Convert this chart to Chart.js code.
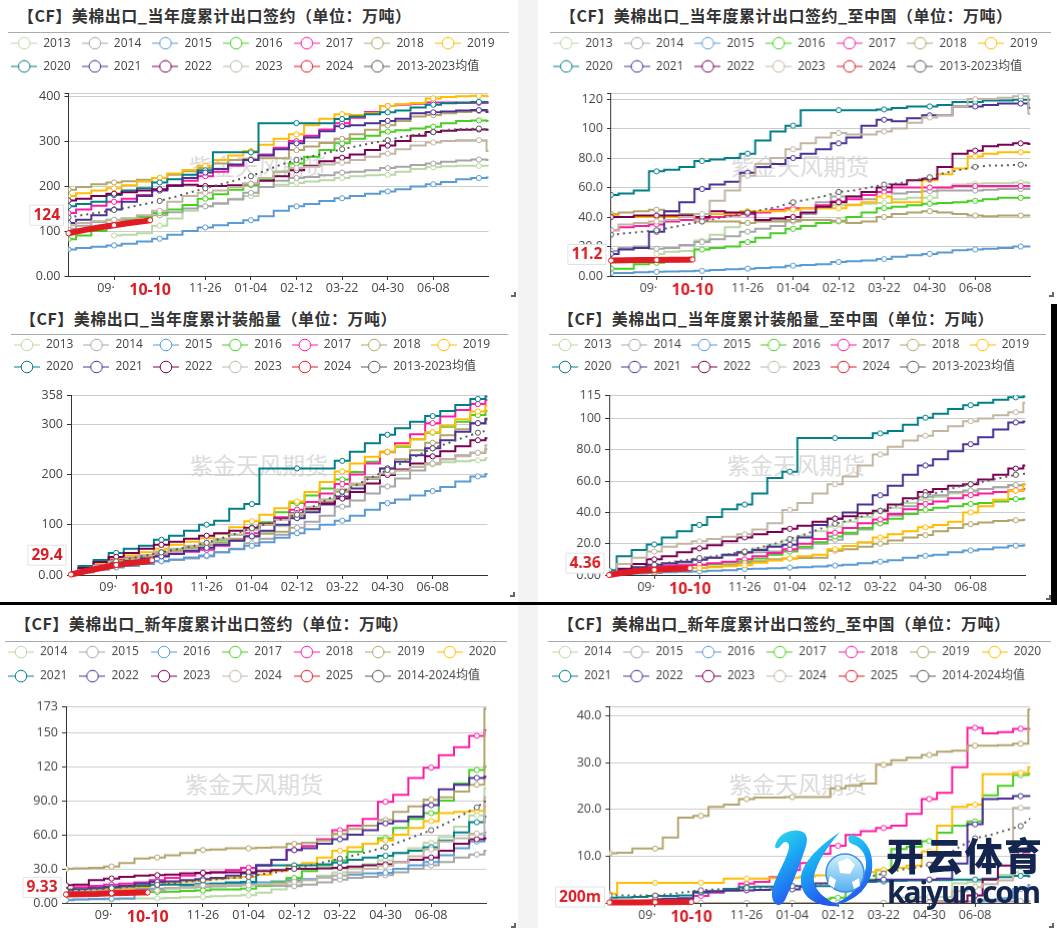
<!DOCTYPE html>
<html><head><meta charset="utf-8">
<script src="https://cdn.jsdelivr.net/npm/chart.js@4/dist/chart.umd.min.js"></script>
<style>
html,body{margin:0;padding:0;background:#fff;width:1057px;height:928px;overflow:hidden}
.abs{position:absolute}
.title{font:700 16px "Noto Sans CJK SC";color:#333;white-space:nowrap;line-height:22px;letter-spacing:0.5px}
.wm{font:400 23px "Noto Sans CJK SC";color:#dcdcdc;white-space:nowrap;line-height:28px}
</style></head><body>
<div id="root"></div>
<script>
const weeks=[0,1,2,3,4,5,6,7,8,9,10,11,12,13,14,15,16,17,18,19,20,21,22,23,24,25,26,27,28];
const latestWeek=5.37;
const xTickWeeks=[3,5.37,6,9,12,15,18,21,24];
const xTickLabels=['09·\u00a0\u00a0\u00a0\u00a0\u00a0','10-10','','11-26','01-04','02-12','03-22','04-30','06-08'];
const colors=['#b9d9a6','#a6a6a6','#5b9bd5','#47d022','#ff1aa3','#b3a46c','#ffbc00','#007f88','#4b3096','#7a0052','#c2b5a2','#e01b24','#595959'];
const legendA=['2013','2014','2015','2016','2017','2018','2019','2020','2021','2022','2023','2024','2013-2023均值'];
const legendB=['2014','2015','2016','2017','2018','2019','2020','2021','2022','2023','2024','2025','2014-2024均值'];

// Panel 1: current-year cumulative export sales
const p1_2013=[null,null,null,90,92,95,112,128,145,155,160,172,178,198,203,207,210,213,218,222,224,225,232,238,242,244,245,245,245];
const p1_2014=[105,112,120,125,128,130,135,142,150,155,162,170,185,198,212,218,220,224,230,232,235,240,243,247,250,254,257,259,258];
const p1_2015=[59,62,65,68,72,77,83,92,100,108,113,118,124,133,145,155,160,167,173,178,183,188,193,199,204,209,215,218,219];
const p1_2016=[82,90,100,115,125,132,140,148,158,172,182,192,202,215,232,250,265,280,295,305,312,321,324,328,332,340,345,346,345];
const p1_2017=[140,148,156,165,172,180,192,200,212,222,232,245,258,270,285,300,312,326,340,352,365,378,381,383,386,386,385,385,385];
const p1_2018=[192,198,204,208,211,214,218,225,233,240,250,258,260,262,262,280,288,296,305,315,325,335,345,355,358,362,365,367,368];
const p1_2019=[178,184,190,195,202,210,218,228,236,245,258,268,278,292,305,315,335,350,360,358,362,378,382,385,395,398,400,401,400];
const p1_2020=[155,160,165,180,190,195,208,215,225,235,275,275,275,340,340,340,340,340,349,355,360,364,368,375,381,384,386,387,387];
const p1_2021=[118,125,135,148,165,178,190,200,218,230,238,248,258,268,282,295,308,322,333,335,340,345,350,362,364,366,368,369,365];
const p1_2022=[168,172,178,183,186,190,193,202,203,200,200,202,205,212,222,235,245,255,263,270,280,290,300,312,320,323,325,326,325];
const p1_2023=[113,118,122,125,128,135,145,165,178,185,190,198,205,218,232,240,243,248,252,258,265,272,282,290,297,300,302,302,278];
const p1_now=[95,102,108,113,118,122,124];
const p1_mean=[130,136,141,147,153,160,167,176,186,195,204,213,222,235,248,258,266,274,282,289,296,302,310,315,320,325,327,328,325];

// Panel 2: current-year cumulative export sales to China
const p2_2013=[null,null,null,15,16.5,17,24,28,33,36,37,38,40,42,46,48,48.5,49,49.5,52,53,53,60,62,62.5,63,63,63.5,63];
const p2_2014=[17,19,20,18.5,19,21,23,25,27,30,32,34,37,42,50,54,54,52,57,56,57,57.5,58,58,58,58.5,59,59,59];
const p2_2015=[2,2,2.5,2.8,3,3.2,3.5,4,4.5,5,5.5,6,7,7.5,8,9.5,10,10.5,11.5,13,14,15,16,17.5,18,18.5,19,20,20];
const p2_2016=[5,5,8,9,10,11,18,19,20,23,26,29,32,34,36,37,40,43,46,47,48,49,49.5,50,51,52,53,53,53];
const p2_2017=[31,33,34,35,37,38,39,40,41,42,43,45,46,46,48,50.5,52,55,57,60,60,60,60,61,61,61,61,61,61];
const p2_2018=[42,43,44,45,44,42,37,37,37,36,37,37,38,38,38,37.5,36,37,40,42,43,44,43,42,41,40.5,41,41,41];
const p2_2019=[41,40,40,40,40,40,40,42,42,44,44,44,45,46,46,46,48,50,54,50,50,65,69,73,81,83,84,84,84];
const p2_2020=[55,56,58,71,72,74,78,79,80,83,92,98,102,112.5,112.5,112.5,112.5,112.5,113,114,115,115,116,118,118,119,119,119.5,119.5];
const p2_2021=[15,18,19,30,44,50,59,62,64,70,74,76,80,83,86,90,94,102,106,105,107,109,109,115,115,116,117,117,114];
const p2_2022=[40,40,41,41,41,41,40,44,43,43,38,39,40,43,47,50,54,57,60,62,65,66,74,83,85,88,89,90,89.5];
const p2_2023=[31,35,36,37,38,40,42,51,58,68,76,80,86,90,94,97,96,96,98,100,104,107.5,109,115,120,120,121,122,110];
const p2_now=[10.5,10.7,10.8,10.9,11,11.1,11.2];
const p2_mean=[28,29,30,31,33,35,37,39,41,43,45,47,50,52,54,57,58,60,62,63,65,67,70,72,74,75,75,75.5,74];

// Panel 3: current-year cumulative shipments
const p3_2013=[0,8,16,22,28,35,42,47,52,55,62,68,75,85,97,115,130,150,165,178,192,200,208,216,220,224,226,228,232];
const p3_2014=[0,5,11,17,20,23,27,30,33,37,45,52,63,72,80,94,106,118,136,148,162,176,192,208,222,230,238,243,250];
const p3_2015=[0,6,11,15,18,22,28,31,35,39,45,51,58,65,74,83,91,100,108,118,130,143,150,158,167,175,186,196,201];
const p3_2016=[0,14,22,30,35,40,46,51,55,60,70,80,93,105,125,143,158,172,190,205,225,244,255,270,283,295,305,318,326];
const p3_2017=[0,12,22,32,34,37,40,43,46,50,58,70,83,100,115,130,145,162,181,200,222,245,262,280,302,315,328,340,348];
const p3_2018=[0,8,16,24,30,36,42,48,54,60,65,72,77,82,86,118,130,145,166,180,195,212,230,248,263,278,290,302,312];
const p3_2019=[0,15,24,34,39,45,52,60,66,73,82,95,107,120,133,146,165,185,206,222,235,245,257,270,284,297,310,325,337];
const p3_2020=[3,18,30,44,52,58,70,78,88,100,108,132,141,212,212,212,212,212,227,245,262,279,292,305,316,326,338,350,355];
const p3_2021=[0,10,17,24,28,33,37,42,48,54,60,68,77,88,100,113,125,140,156,172,192,212,225,238,252,268,285,302,310];
const p3_2022=[0,14,26,36,44,52,60,66,72,78,83,88,94,102,112,123,132,142,152,165,182,199,210,222,236,246,256,268,272];
const p3_2023=[0,10,19,27,33,40,46,52,58,64,72,80,90,100,110,122,135,150,170,182,192,202,208,215,222,230,236,243,258];
const p3_now=[1,8,14,20,24,27,29.4];
const p3_mean=[0,9,18,27,33,39,45,51,57,64,73,83,93,102,111,120,135,150,166,180,195,209,223,238,252,262,273,283,290];

// Panel 4: current-year cumulative shipments to China
const p4_2013=[0,1,2,3,5,7,10,11,13,15,17,19,22,25,28,31,34,37,40.5,43,46,48,50,52,53,55,56,57,58];
const p4_2014=[1,2,3,4.5,6,8,10,11,12.5,14,14.5,15,15.5,17,20,22.5,26,29,33,38,44,50,51,53,54,55,56,57.5,58];
const p4_2015=[0,0.5,1,1.3,1.7,2,2.3,2.7,3,3.8,4,4.3,4.7,5,5.5,6,6.5,7.5,8.5,9.5,11,12.3,13,14.5,15.7,16.5,17.5,18.7,19];
const p4_2016=[0,1,2,3.5,4.5,5.5,6.5,7,8,8.7,10.5,13,15,18,21,24.6,27,30,33,36,39,41.6,43,44,45.4,46,47,48.5,49];
const p4_2017=[0,2,4,5.5,6,6.2,6.5,7.5,8.5,10,12,14,16.5,20,23,27,30,33,35.5,39,42,45.4,47,49,51,52,53,54,55];
const p4_2018=[0,1,2,2.3,3,3.7,4.5,5.5,6.5,7.6,8.8,10,10.6,10.8,11,15.5,16.5,18,20,22,24,25.5,28,30,32.5,33.5,34.5,35,35.3];
const p4_2019=[0,1,1.8,2.3,3,3.8,4.5,5,5.6,6.2,7.8,9.3,10.6,12,13,16.5,18.5,21,24,26,28,30.5,32,34,40,44,48,54,58];
const p4_2020=[3,12,16,19.5,24,28,32,37,42,45,52,62,66,87.5,87.5,87.5,87.5,87.5,90.5,92,96,100.5,103,106,108.5,110,112,113.5,114];
const p4_2021=[0,3,5,6.5,7.5,8.5,9.8,11,13,14.6,16,18,19.3,24,32,36,40,45,51,57,64,70,74,79,83.6,88,93,97.5,98];
const p4_2022=[0,4,7,10,12,14.5,17,19,21.5,24,26,27.5,29.5,31.5,34,36,37.5,39.5,41,45,49,53,55,57,58,61,64,68,70];
const p4_2023=[0,7,11,15,18,20,21.5,23,24.5,26,29,33,41.6,46,52,58,63,70,77,82,86,89,92,95,98.3,100,102,104,110];
const p4_now=[0,1.5,2.7,3.3,3.8,4.1,4.36];
const p4_mean=[1,3,5,6.5,8,9.5,10.8,12,13.5,15,17.5,20,23,26,29.5,32.7,35,38,41,44,48,51,53,56,58,60,62,64,65];

// Panel 5: new-crop cumulative export sales
const p5_2014=[3,3,3,3,3.5,4,4,4.5,5,5.3,6,6.5,6.8,9,12,16,20,24,27,31,34,37.6,44,48,53,58,67,77,101];
const p5_2015=[10,11,12,12.6,12.6,12.6,12.6,13,13.5,14,14.5,15,15.6,15,15,14.7,16,18,20.6,22,23,24.4,27,30,33,36,40,42.6,46];
const p5_2016=[2.4,3,3.5,3.8,4,12,12,13,15,17,17,17,17,18,19,20,21,22.5,24,25,26,26.5,30,33,36,42,48,54,62];
const p5_2017=[12,12,11,11,10,10,9.7,10,10.5,11,12,12,12.6,15,18,22,28,33,37.6,45,52,57,66,74,79,90,105,117,120];
const p5_2018=[11,14,15,16,17,18,20,22,24,26,27,29,31,33,38,46.5,50,56,64,68,74,89,95,110,119,130,137,147,152];
const p5_2019=[30,30.5,31,32,35,39,40,42,44,46.5,47,48,48,48.5,49,52,53,55,61,65,68,73,80,85,91,93,98,104,171];
const p5_2020=[10,10,10,12.6,13,14,16,18,19,20,21,22,23,25,28,33,35,40,46,49,52,55,60,66,72,79,80,81,85];
const p5_2021=[11,12,13,14,14.5,15,16,16,16,16,17,18,18.5,33,33,33,33,34,35.6,38,40,41.5,44,46,49,55,62,71,76];
const p5_2022=[11,12,13,14,15,17,18.5,19,20,21,22,24,26,33,38,46.5,48,52,56,60,64,70,72,76,86,100,104,110,111];
const p5_2023=[15.6,16,20,21.5,23,24,24.4,25,26,26.5,27,27,27,28,29,30,30,30.5,31,32,33,34,36,38,40,46,52,56,57];
const p5_2024=[10,10.5,11,11,11,11,11,13,14,15.6,15.6,15.6,15.6,16,17,18.5,20,22,24,27,30,32.6,36,41,47,54,57,61,93];
const p5_now=[7.5,7.8,8,8.5,8.9,9.2,9.33];
const p5_mean=[10.6,11.4,12.2,13,14,15,16,17.4,18.7,20,21,22,23,25.5,27.5,30,33,36,39,42,45.5,49,54,59,64,70,77,84,94];

// Panel 6: new-crop cumulative export sales to China
const p6_2014=[null,null,null,null,null,null,null,null,null,null,null,null,null,null,null,null,null,null,null,1.2,1.2,1.3,1.3,4.2,4.5,5,6,6.6,7];
const p6_2015=[0,0,0,0,0,0,0,0,0,0,0,0,0,0,0,0,0,0,0,0,0,0,0,0,0.3,0.3,0.3,0.4,0.4];
const p6_2016=[null,null,null,null,null,null,null,null,null,null,null,null,null,null,null,null,null,null,null,null,null,null,null,null,0.4,0.7,1,3,3.8];
const p6_2017=[null,null,null,null,null,null,null,null,null,null,null,null,null,null,0.8,1.1,2.5,5,7,11.5,12,13.2,15,16.5,17.4,23,25,27.3,27.6];
const p6_2018=[0,0,0,0,0.3,0.8,1.5,2.2,3,4.1,4.5,5.5,7,8.5,10.5,12.2,14.5,15.3,16,16.5,19,22.2,23.5,29,37.4,36.2,36.5,37.2,37.2];
const p6_2019=[10.6,10.7,11.6,11.6,14,18.2,18.6,20.5,21,22.2,22.5,22.5,22.6,22.6,22.6,24.5,25,25.5,29.5,30.5,31,31.6,32.3,32.5,33.6,33.6,33.7,34,41.3];
const p6_2020=[2,4.3,4.3,4.3,4.3,4.3,4.3,4.3,5.2,5.2,5.2,5.3,5.4,5.6,5.9,6,6.3,6.6,7,7.5,8,11,16.5,20.5,21,27.5,27.5,27.8,29];
const p6_2021=[1.1,1.2,1.3,1.5,1.5,1.6,2.2,2.4,3,3.4,3.5,3.5,3.6,3.6,3.6,3.6,3.7,4.5,4.6,4.7,4.8,4.9,4.9,5,5,5.2,5.5,5.8,5.7];
const p6_2022=[null,null,null,0.8,0.9,1,2.4,2.5,2.6,2.7,2.8,2.9,2.9,3.5,4.2,4.3,4.4,4.8,5,5,5,5,5.2,8.4,16.8,22.2,22.3,22.8,22.8];
const p6_2023=[null,null,null,null,null,null,null,null,null,null,null,null,null,null,null,null,null,null,null,0.2,0.2,0.2,0.3,0.3,1.6,5,8,10.8,10.8];
const p6_2024=[0,0,0,0,0,0,0,0,0,0,0,0,0,0,0,0,0,0,0,0,0,0.1,0.3,2.5,3.4,4,4.8,20.3,20.3];
const p6_now=[0.1,0.1,0.1,0.15,0.15,0.2,0.2];
const p6_mean=[1.6,1.6,1.6,1.6,1.9,2.3,2.7,2.9,3,3.2,3.3,3.5,3.6,3.9,4.1,4.4,5,5.6,6.3,7,7.5,8.2,10,12,13.8,14.5,15.5,16.4,19];

const yTicks1=[0,100,200,300,400,405], yLabels1=['0.00','100','200','300','400',''];
const yTicks2=[0,20,40,60,80,100,120,123.8], yLabels2=['0.00','20.0','40.0','60.0','80.0','100','120',''];
const yTicks3=[0,100,200,300,358], yLabels3=['0.00','100','200','300','358'];
const yTicks4=[0,20,40,60,80,100,115], yLabels4=['0.00','20.0','40.0','60.0','80.0','100','115'];
const yTicks5=[0,30,60,90,120,150,173], yLabels5=['0.00','30.0','60.0','90.0','120','150','173'];
const yTicks6=[0,10,20,30,40,42], yLabels6=['0.00','10.0','20.0','30.0','40.0',''];

const FONT='"Open Sans","Noto Sans CJK SC",sans-serif';
const panels=[
 {title:'【CF】美棉出口_当年度累计出口签约（单位：万吨）',tx:18,ty:4,rule:[8,509,32],icon:11,row:43,pad:11.2,
  pl:68.3,pr:488.3,pt:93.7,pb:276,yT:yTicks1,yL:yLabels1,tag:'124',wm:[189,151],corner:[511,292],legend:legendA,
  data:[p1_2013,p1_2014,p1_2015,p1_2016,p1_2017,p1_2018,p1_2019,p1_2020,p1_2021,p1_2022,p1_2023,p1_now,p1_mean]},
 {title:'【CF】美棉出口_当年度累计出口签约_至中国（单位：万吨）',tx:560,ty:4,rule:[550,1051,32],icon:553.3,row:43,pad:11.2,
  pl:611,pr:1030.3,pt:93.3,pb:276,yT:yTicks2,yL:yLabels2,tag:'11.2',wm:[731,151],corner:[1049,292],legend:legendA,
  data:[p2_2013,p2_2014,p2_2015,p2_2016,p2_2017,p2_2018,p2_2019,p2_2020,p2_2021,p2_2022,p2_2023,p2_now,p2_mean]},
 {title:'【CF】美棉出口_当年度累计装船量（单位：万吨）',tx:20,ty:307,rule:[11,508,334],icon:14.3,row:344.7,pad:10,
  pl:71.3,pr:487.7,pt:394.7,pb:575.3,yT:yTicks3,yL:yLabels3,tag:'29.4',wm:[190,450],corner:[510,592],legend:legendA,
  data:[p3_2013,p3_2014,p3_2015,p3_2016,p3_2017,p3_2018,p3_2019,p3_2020,p3_2021,p3_2022,p3_2023,p3_now,p3_mean]},
 {title:'【CF】美棉出口_当年度累计装船量_至中国（单位：万吨）',tx:558,ty:307,rule:[549,1046,334],icon:552.3,row:344.7,pad:10,
  pl:609.3,pr:1025.3,pt:394.7,pb:575.3,yT:yTicks4,yL:yLabels4,tag:'4.36',wm:[727,450],corner:[1046,595],legend:legendA,
  data:[p4_2013,p4_2014,p4_2015,p4_2016,p4_2017,p4_2018,p4_2019,p4_2020,p4_2021,p4_2022,p4_2023,p4_now,p4_mean]},
 {title:'【CF】美棉出口_新年度累计出口签约（单位：万吨）',tx:15,ty:612,rule:[5,507,641],icon:8.3,row:652.3,pad:12,
  pl:66.3,pr:486.7,pt:706.3,pb:902.7,yT:yTicks5,yL:yLabels5,tag:'9.33',wm:[185,769],corner:[511,923],legend:legendB,
  data:[p5_2014,p5_2015,p5_2016,p5_2017,p5_2018,p5_2019,p5_2020,p5_2021,p5_2022,p5_2023,p5_2024,p5_now,p5_mean]},
 {title:'【CF】美棉出口_新年度累计出口签约_至中国（单位：万吨）',tx:558,ty:612,rule:[548,1051,641],icon:552.3,row:652.3,pad:12,
  pl:609.7,pr:1030.3,pt:706.3,pb:902.7,yT:yTicks6,yL:yLabels6,tag:'200m',wm:[729,769],corner:[1049,923],legend:legendB,
  data:[p6_2014,p6_2015,p6_2016,p6_2017,p6_2018,p6_2019,p6_2020,p6_2021,p6_2022,p6_2023,p6_2024,p6_now,p6_mean]}
];

const root=document.getElementById('root');
function box(css,cls,txt){const d=document.createElement('div');d.className='abs '+(cls||'');d.style.cssText+=css;if(txt)d.textContent=txt;root.appendChild(d);return d;}
box('left:518px;top:0;width:20px;height:928px;background:#f3f3f3;');
box('left:1051px;top:304px;width:6px;height:301px;background:#000;z-index:9;');
box('left:0;top:602px;width:1057px;height:3px;background:#000;z-index:9;');

function icon(color){
  const c=document.createElement('canvas');c.width=26;c.height=14;
  const g=c.getContext('2d');g.strokeStyle=color;g.lineWidth=1;
  g.beginPath();g.moveTo(0,7);g.lineTo(26,7);g.stroke();
  g.fillStyle='#fff';g.beginPath();g.arc(13,7,5.8,0,Math.PI*2);g.fill();g.stroke();
  return c;
}

panels.forEach(p=>{
  box(`left:${p.tx}px;top:${p.ty}px;`,'title',p.title);
  box(`left:${p.rule[0]}px;top:${p.rule[2]}px;width:${p.rule[1]-p.rule[0]}px;height:1px;background:#aaa;`);
  box(`left:${p.wm[0]}px;top:${p.wm[1]}px;`,'wm','紫金天风期货');
  box(`left:${p.corner[0]}px;top:${p.corner[1]}px;width:3px;height:3px;border-right:2px solid #666;border-bottom:2px solid #666;z-index:8;`);
  const L=p.icon-p.pad, T=p.row-p.pad-6;
  const W=Math.min(1057-L,518);
  const H=p.pb+24-T;
  const cv=document.createElement('canvas');cv.width=W;cv.height=H;
  cv.className='abs';cv.style.cssText=`left:${L}px;top:${T}px;width:${W}px;height:${H}px;z-index:2;`;
  root.appendChild(cv);
  const datasets=p.data.map((arr,i)=>{
    const isNow=i===11,isMean=i===12;
    const pts=arr.map((v,k)=>({x:isNow&&k===6?latestWeek:weeks[k],y:v}));
    return {label:p.legend[i],data:pts,borderColor:colors[i],backgroundColor:'#fff',
      borderWidth:isNow?6:2,stepped:(isNow||isMean)?false:'middle',borderDash:isMean?[2,4]:[],
      order:isNow?-100:-i,clip:isNow?false:undefined,
      pointBackgroundColor:'#fff',pointBorderColor:colors[i],pointBorderWidth:1,
      pointRadius:c=>(c.dataIndex%3===0&&c.dataIndex<=27)?2.6:0,pointHoverRadius:0};
  });
  const fixLegend={id:'fixLegend',beforeLayout(chart){
    const lg=chart.legend; if(lg._wrapped) return; lg._wrapped=true; const f=lg.fit;
    lg.fit=function(){this.maxWidth=W;f.call(this);this.height=p.pt-T;};
  },afterLayout(chart){chart.legend.right=W;},afterDraw(chart){
    const y=chart.scales.y,ctx=chart.ctx;
    const cy=y.getPixelForValue(p.data[11][6])-5;
    ctx.save();ctx.font='700 15.5px '+FONT;
    const tw=ctx.measureText(p.tag).width,bw=tw+7,bh=20,bx=p.pl-L-5-bw;
    ctx.fillStyle='#fff';ctx.strokeStyle='#e2e2e2';ctx.lineWidth=1;
    ctx.beginPath();ctx.rect(bx,cy-bh/2,bw,bh);ctx.fill();ctx.stroke();
    ctx.fillStyle='#d91f26';ctx.textAlign='center';ctx.textBaseline='middle';
    ctx.fillText(p.tag,bx+bw/2,cy+0.5);ctx.restore();
  }};
  new Chart(cv.getContext('2d'),{type:'line',data:{datasets},plugins:[fixLegend],options:{
    responsive:false,animation:false,devicePixelRatio:1,
    layout:{padding:{left:0,top:0,bottom:0,right:W-(p.pr-L)}},
    plugins:{title:{display:false},tooltip:{enabled:false},
      legend:{display:true,position:'top',align:'start',labels:{
        usePointStyle:true,pointStyleWidth:26,boxHeight:12,padding:p.pad,color:'#444',
        font:{family:FONT,size:12,lineHeight:1},
        generateLabels:c=>c.data.datasets.map((d,i)=>({text:d.label,pointStyle:icon(d.borderColor),datasetIndex:i,fontColor:'#444',hidden:false,lineWidth:0,strokeStyle:'transparent',fillStyle:'transparent'}))
      }}},
    scales:{
      x:{type:'linear',min:0,max:27.63,
        afterBuildTicks:a=>{a.ticks=xTickWeeks.map(v=>({value:v}));},
        afterFit:s=>{s.height=24;},
        border:{color:'#333'},
        grid:{drawOnChartArea:false,tickLength:4,tickColor:c=>(c.tick&&c.tick.value===latestWeek)?'transparent':'#333'},
        ticks:{autoSkip:false,maxRotation:0,minRotation:0,padding:1,
          callback:v=>{const i=xTickWeeks.indexOf(v);return i<0?'':xTickLabels[i];},
          color:c=>c.tick&&c.tick.value===latestWeek?'#d91f26':'#444',
          font:c=>c.tick&&c.tick.value===latestWeek?{family:FONT,size:16,weight:'700'}:{family:FONT,size:12.5}}},
      y:{type:'linear',min:0,max:p.yT[p.yT.length-1],
        afterBuildTicks:a=>{a.ticks=p.yT.map(v=>({value:v}));},
        afterFit:s=>{s.width=p.pl-L;},
        border:{color:'#333'},
        grid:{color:'#ccc',tickLength:4,tickColor:'#333'},
        ticks:{padding:4,color:'#444',font:{family:FONT,size:12.5},autoSkip:false,
          callback:v=>{const i=p.yT.indexOf(v);return i<0?'':p.yL[i];}}}
    }}});
});

// Overlay brand mark
root.insertAdjacentHTML('beforeend',`<svg class="abs" style="left:760px;top:820px;z-index:6" width="297" height="108" viewBox="0 0 297 108">
<defs><linearGradient id="kg" x1="0" y1="0" x2="0.4" y2="1"><stop offset="0" stop-color="#2fe0ea"/><stop offset="0.5" stop-color="#1aa6f5"/><stop offset="1" stop-color="#2558ef"/></linearGradient>
<linearGradient id="kb" x1="0" y1="0" x2="0" y2="1"><stop offset="0" stop-color="#d6f2fb"/><stop offset="1" stop-color="#55aef0"/></linearGradient></defs>
<path fill="url(#kg)" d="M15,26 C18,14 30,9 40,11 C49,13 48,22 44,32 C38,50 32,64 26,78 C21,89 13,86 12,76 C11,62 25,45 29,28 C30,22 25,20 22,24 C20,27 16,31 15,26Z"/>
<path fill="url(#kg)" d="M80,12 C62,24 44,40 41,56 C39,74 52,88 80,86 C66,80 52,70 54,56 C57,42 68,26 80,12Z"/>
<path fill="url(#kg)" d="M92,15 C106,18 114,32 112,50 C110,68 92,84 72,85 C90,78 104,64 106,46 C107,34 100,26 92,24 C87,22 87,15 92,15Z"/>
<circle cx="85" cy="53" r="19" fill="url(#kb)" stroke="#3b8fe8" stroke-width="1.5"/>
<path fill="#fff" d="M78,42 L88,38 L95,45 L90,54 L80,53Z M70,56 L76,60 L74,68 L68,64Z M92,62 L99,58 L100,66 L94,69Z"/>
<text x="126" y="50" font-family="Noto Sans CJK SC" font-weight="900" font-size="38" fill="#14264f" textLength="156" lengthAdjust="spacing">开云体育</text>
<text x="127" y="83" font-family="Noto Sans" font-weight="700" font-size="30" fill="#14264f" textLength="154" lengthAdjust="spacing">kaiyun.com</text>
</svg>`);
</script>
</body></html>
